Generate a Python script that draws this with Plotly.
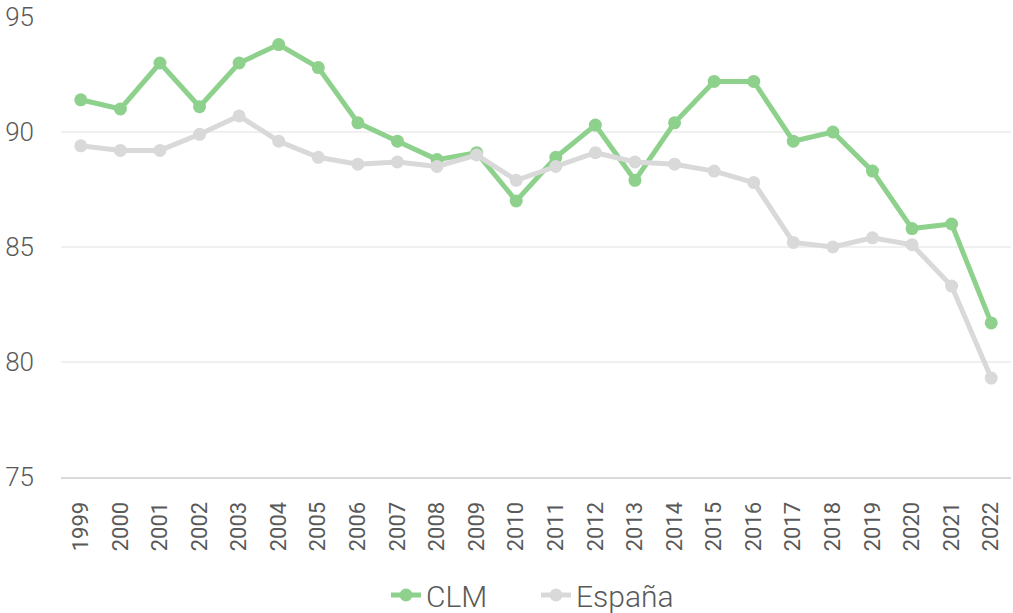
import plotly.graph_objects as go

years = [str(y) for y in range(1999, 2023)]
clm = [91.4, 91.0, 93.0, 91.1, 93.0, 93.8, 92.8, 90.4, 89.6, 88.8, 89.1, 87.0,
       88.9, 90.3, 87.9, 90.4, 92.2, 92.2, 89.6, 90.0, 88.3, 85.8, 86.0, 81.7]
espana = [89.4, 89.2, 89.2, 89.9, 90.7, 89.6, 88.9, 88.6, 88.7, 88.5, 89.0, 87.9,
          88.5, 89.1, 88.7, 88.6, 88.3, 87.8, 85.2, 85.0, 85.4, 85.1, 83.3, 79.3]

FONT = "Roboto, Inter, sans-serif"
fig = go.Figure()
fig.add_trace(go.Scatter(x=years, y=clm, name="CLM", mode="lines+markers",
                         line=dict(color="#8ED18C", width=5),
                         marker=dict(color="#8ED18C", size=13)))
fig.add_trace(go.Scatter(x=years, y=espana, name="España", mode="lines+markers",
                         line=dict(color="#D9D9D9", width=5),
                         marker=dict(color="#D9D9D9", size=13)))

fig.update_layout(
    width=1013, height=613,
    margin=dict(l=61, r=2, t=17, b=136, autoexpand=False),
    paper_bgcolor="white", plot_bgcolor="white",
    font=dict(family=FONT, color="#595959", weight=300),
    legend=dict(orientation="h", x=0.5, xanchor="center", y=-0.2, yanchor="top",
                font=dict(family=FONT, size=30, color="#595959", weight=300),
                entrywidth=105),
    xaxis=dict(type="category", tickangle=-90,
               tickfont=dict(family=FONT, size=22, weight=400),
               range=[-0.5, 23.5],
               showgrid=False, showline=True, linecolor="#D9D9D9", linewidth=2,
               ticks="", ticklabelstandoff=14, automargin=False),
    yaxis=dict(range=[75, 95], dtick=5,
               tickfont=dict(family=FONT, size=26, weight=300),
               showgrid=True, gridcolor="#F0F0F0", gridwidth=1.5,
               zeroline=False, showline=False, ticks="", ticklabelstandoff=26,
               automargin=False),
)

fig.write_html("out.html", config={"displayModeBar": False},
               post_script="document.body.style.margin='0';document.body.style.overflow='hidden';")
